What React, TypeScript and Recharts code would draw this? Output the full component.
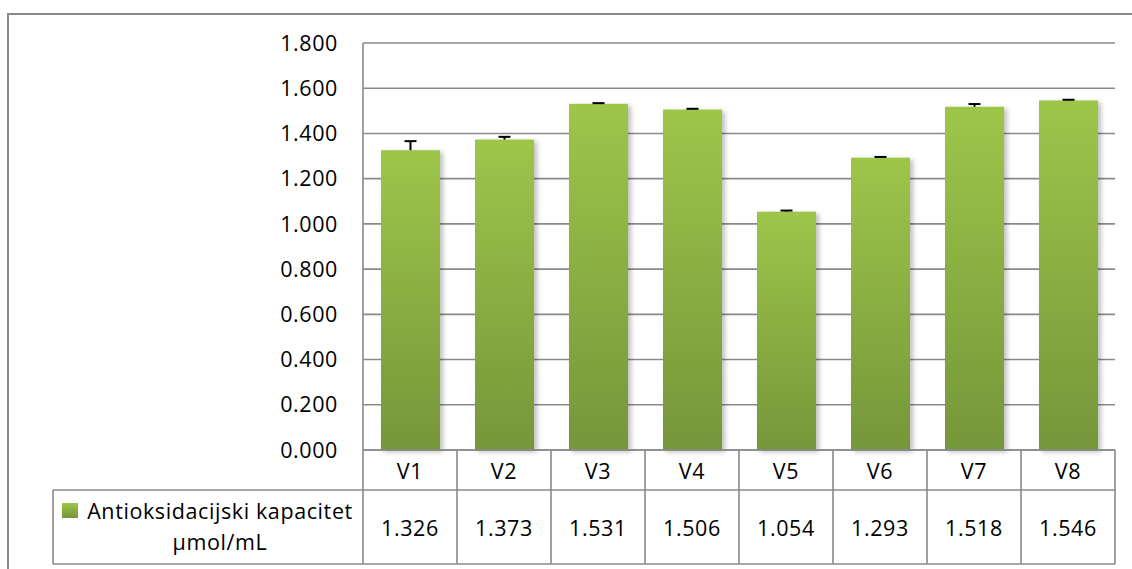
import { BarChart, Bar, XAxis, YAxis, CartesianGrid } from 'recharts';

const categories = ['V1', 'V2', 'V3', 'V4', 'V5', 'V6', 'V7', 'V8'];
const capacity = [1.326, 1.373, 1.531, 1.506, 1.054, 1.293, 1.518, 1.546];
const errorUp = [0.04, 0.012, 0.003, 0.003, 0.005, 0.003, 0.012, 0.003];
const yTicks = [0, 0.2, 0.4, 0.6, 0.8, 1.0, 1.2, 1.4, 1.6, 1.8];
const seriesName = ['Antioksidacijski kapacitet', 'µmol/mL'];

const W = 1132;
const H = 569;
const PLOT_LEFT = 363;
const PLOT_RIGHT = 1115;
const CELL_W = (PLOT_RIGHT - PLOT_LEFT) / categories.length;
const ROW1 = 40;
const ROW2 = 114;
const LEGEND_LEFT = 53;
const LINE = '#8a8a8a';
const FONT = '"Open Sans", sans-serif';
const TEXT = { fontFamily: FONT, fontSize: 21.5, letterSpacing: 0.6, fill: '#000' };

const data = categories.map((name, i) => ({
  name,
  value: capacity[i],
  err: errorUp[i],
}));

// bar with Excel-like plus-only error bar on top
function BarWithError(props: any) {
  const { x, y, width, height, value, payload } = props;
  const perUnit = value ? height / value : 0;
  const errPx = payload.err * perUnit;
  const cx = x + width / 2;
  return (
    <g>
      <rect x={x} y={y} width={width} height={height} fill="url(#barFill)" filter="url(#barShadow)" />
      <line x1={cx} x2={cx} y1={y} y2={y - errPx} stroke="#000" strokeWidth={2} />
      <line x1={cx - 6} x2={cx + 6} y1={y - errPx} y2={y - errPx} stroke="#000" strokeWidth={2} />
    </g>
  );
}

function TableTick(props: any) {
  const { x, y, payload, index } = props;
  const i = index ?? payload.index;
  const left = x - CELL_W / 2;
  const right = x + CELL_W / 2;
  const last = i === categories.length - 1;
  return (
    <g>
      <line x1={left} x2={right} y1={y} y2={y} stroke={LINE} strokeWidth={1.6} />
      <line x1={left} x2={right} y1={y + ROW1} y2={y + ROW1} stroke={LINE} strokeWidth={1.6} />
      <line x1={left} x2={right} y1={y + ROW2} y2={y + ROW2} stroke={LINE} strokeWidth={1.6} />
      <line x1={left} x2={left} y1={y} y2={y + ROW2} stroke={LINE} strokeWidth={1.6} />
      {last && <line x1={right} x2={right} y1={y} y2={y + ROW2} stroke={LINE} strokeWidth={1.6} />}
      <text x={x} y={y + ROW1 / 2} textAnchor="middle" dominantBaseline="central" style={TEXT}>
        {payload.value}
      </text>
      <text x={x} y={y + (ROW1 + ROW2) / 2} textAnchor="middle" dominantBaseline="central" style={TEXT}>
        {capacity[i].toFixed(3)}
      </text>
      {i === 0 && (
        <g>
          <line x1={LEGEND_LEFT} x2={left} y1={y + ROW1} y2={y + ROW1} stroke={LINE} strokeWidth={1.6} />
          <line x1={LEGEND_LEFT} x2={left} y1={y + ROW2} y2={y + ROW2} stroke={LINE} strokeWidth={1.6} />
          <line x1={LEGEND_LEFT} x2={LEGEND_LEFT} y1={y + ROW1} y2={y + ROW2} stroke={LINE} strokeWidth={1.6} />
          <rect x={62} y={y + 53} width={16} height={15} fill="url(#barFill)" />
          <text x={220} y={y + 60} textAnchor="middle" dominantBaseline="central" style={TEXT}>
            {seriesName[0]}
          </text>
          <text x={220} y={y + 91} textAnchor="middle" dominantBaseline="central" style={TEXT}>
            {seriesName[1]}
          </text>
        </g>
      )}
    </g>
  );
}

export default function App() {
  return (
    <div style={{ position: 'absolute', left: 0, top: 0, width: W, height: H, overflow: 'hidden', background: '#fff' }}>
      <div
        style={{
          position: 'absolute',
          left: 7,
          top: 13,
          width: W + 50,
          height: H + 50,
          border: `2px solid ${LINE}`,
          boxSizing: 'border-box',
        }}
      />
      <div style={{ position: 'absolute', left: 0, top: 0 }}>
        <BarChart
          width={W}
          height={H}
          data={data}
          margin={{ top: 43, right: W - PLOT_RIGHT, bottom: H - 450 - ROW2 - 2, left: 0 }}
        >
          <defs>
            <linearGradient id="barFill" x1="0" y1="0" x2="0" y2="1">
              <stop offset="0%" stopColor="#9dc64a" />
              <stop offset="100%" stopColor="#76963a" />
            </linearGradient>
            <filter id="barShadow" x="-20%" y="-5%" width="150%" height="115%">
              <feDropShadow dx="3" dy="2" stdDeviation="2.5" floodColor="#000" floodOpacity="0.25" />
            </filter>
          </defs>
          <CartesianGrid vertical={false} stroke={LINE} strokeWidth={1.6} strokeDasharray="" />
          <YAxis
            width={PLOT_LEFT}
            domain={[0, 1.8]}
            ticks={yTicks}
            interval={0}
            tickFormatter={(v: number) => v.toFixed(3)}
            axisLine={{ stroke: LINE, strokeWidth: 1.6 }}
            tickLine={false}
            tickSize={0}
            tickMargin={25}
            tick={TEXT}
          />
          <XAxis
            dataKey="name"
            height={ROW2 + 2}
            axisLine={false}
            tickLine={false}
            tickSize={0}
            tickMargin={0}
            interval={0}
            tick={<TableTick />}
          />
          <Bar dataKey="value" barSize={59} shape={<BarWithError />} isAnimationActive={false} />
        </BarChart>
      </div>
    </div>
  );
}
